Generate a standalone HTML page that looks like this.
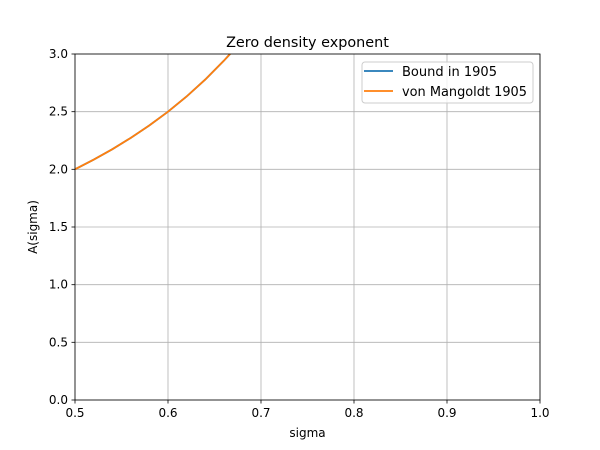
<!DOCTYPE html>
<html><head><style>body{margin:0;background:#fff}svg{display:block}text{font-family:"DejaVu Sans","Liberation Sans",sans-serif;fill:#000}</style></head>
<body>
<svg width="600" height="450" xmlns="http://www.w3.org/2000/svg">
<rect width="600" height="450" fill="#fff"/>
<defs><clipPath id="c"><rect x="75" y="54" width="465" height="346"/></clipPath></defs>
<g stroke="#b0b0b0" stroke-width="0.8">
<line x1="75" y1="54" x2="75" y2="400"/><line x1="168" y1="54" x2="168" y2="400"/><line x1="261" y1="54" x2="261" y2="400"/><line x1="354" y1="54" x2="354" y2="400"/><line x1="447" y1="54" x2="447" y2="400"/><line x1="540" y1="54" x2="540" y2="400"/>
<line x1="75" y1="400" x2="540" y2="400"/><line x1="75" y1="342.3" x2="540" y2="342.3"/><line x1="75" y1="284.7" x2="540" y2="284.7"/><line x1="75" y1="227" x2="540" y2="227"/><line x1="75" y1="169.3" x2="540" y2="169.3"/><line x1="75" y1="111.7" x2="540" y2="111.7"/><line x1="75" y1="54" x2="540" y2="54"/>
</g>
<g clip-path="url(#c)" fill="none" stroke-width="1.8">
<polyline stroke="#1f77b4" points="75,169.3 93.6,159.7 112.2,149.3 130.8,137.9 149.4,125.4 168,111.7 186.6,96.5 205.2,79.6 223.8,60.8 230,54 233,50"/>
<polyline stroke="#ff7f0e" points="75,169.3 93.6,159.7 112.2,149.3 130.8,137.9 149.4,125.4 168,111.7 186.6,96.5 205.2,79.6 223.8,60.8 230,54 233,50"/>
</g>
<rect x="75" y="54" width="465" height="346" fill="none" stroke="#000" stroke-width="0.8"/>
<g stroke="#000" stroke-width="0.8">
<line x1="75" y1="400" x2="75" y2="403.5"/><line x1="168" y1="400" x2="168" y2="403.5"/><line x1="261" y1="400" x2="261" y2="403.5"/><line x1="354" y1="400" x2="354" y2="403.5"/><line x1="447" y1="400" x2="447" y2="403.5"/><line x1="540" y1="400" x2="540" y2="403.5"/>
<line x1="71.5" y1="400" x2="75" y2="400"/><line x1="71.5" y1="342.3" x2="75" y2="342.3"/><line x1="71.5" y1="284.7" x2="75" y2="284.7"/><line x1="71.5" y1="227" x2="75" y2="227"/><line x1="71.5" y1="169.3" x2="75" y2="169.3"/><line x1="71.5" y1="111.7" x2="75" y2="111.7"/><line x1="71.5" y1="54" x2="75" y2="54"/>
</g>
<g font-size="12" text-anchor="middle">
<text x="75" y="417">0.5</text><text x="168" y="417">0.6</text><text x="261" y="417">0.7</text><text x="354" y="417">0.8</text><text x="447" y="417">0.9</text><text x="540" y="417">1.0</text>
</g>
<g font-size="12" text-anchor="end">
<text x="68" y="404">0.0</text><text x="68" y="346.3">0.5</text><text x="68" y="288.7">1.0</text><text x="68" y="231">1.5</text><text x="68" y="173.3">2.0</text><text x="68" y="115.7">2.5</text><text x="68" y="58">3.0</text>
</g>
<text x="307.5" y="437" font-size="12" text-anchor="middle">sigma</text>
<text transform="translate(37,227) rotate(-90)" font-size="12" text-anchor="middle">A(sigma)</text>
<text x="307.5" y="47" font-size="14.4" text-anchor="middle">Zero density exponent</text>
<rect x="362" y="62" width="171" height="41" rx="3" fill="#fff" fill-opacity="0.8" stroke="#ccc"/>
<line x1="364" y1="71" x2="393" y2="71" stroke="#1f77b4" stroke-width="1.8"/>
<line x1="364" y1="91" x2="393" y2="91" stroke="#ff7f0e" stroke-width="1.8"/>
<text x="402" y="76" font-size="13" textLength="95" lengthAdjust="spacingAndGlyphs">Bound in 1905</text>
<text x="402" y="96" font-size="13" textLength="125" lengthAdjust="spacingAndGlyphs">von Mangoldt 1905</text>
</svg>
</body></html>
